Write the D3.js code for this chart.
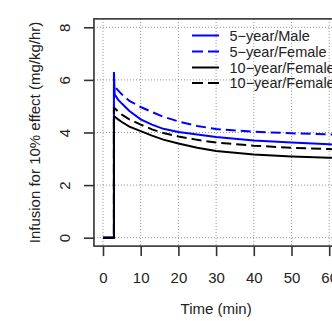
<!DOCTYPE html>
<html><head><meta charset="utf-8">
<script src="https://cdn.jsdelivr.net/npm/d3@7"></script>
<style>body{margin:0;background:#fff}svg{display:block;font-family:"Liberation Sans",Arial,sans-serif}</style>
</head><body><svg id="c" width="332" height="321"></svg>
<script>
// ---- data ----
const time      = [0, 2.9, 2.9, 3.1, 4, 5, 7, 10, 13, 16, 20, 25, 30, 40, 50, 60, 62];
const male5     = [0, 0, 6.3, 5.45, 5.25, 5.1, 4.82, 4.5, 4.3, 4.14, 4.02, 3.92, 3.83, 3.70, 3.62, 3.55, 3.54];
const female5   = [0, 0, 5.75, 5.75, 5.6, 5.45, 5.2, 4.97, 4.78, 4.6, 4.42, 4.25, 4.13, 4.03, 3.97, 3.93, 3.92];
const female10a = [0, 0, 4.6, 4.6, 4.5, 4.4, 4.22, 4.05, 3.88, 3.73, 3.58, 3.42, 3.30, 3.16, 3.09, 3.04, 3.03];
const female10b = [0, 0, 4.92, 4.92, 4.8, 4.68, 4.5, 4.3, 4.12, 3.98, 3.85, 3.72, 3.62, 3.50, 3.42, 3.37, 3.36];
const seriesNames = ["5−year/Male", "5−year/Female", "10−year/Female", "10−year/Female"];
const xTicks = [0, 10, 20, 30, 40, 50, 60];
const yTicks = [0, 2, 4, 6, 8];
const xTitle = "Time (min)";
const yTitle = "Infusion for 10% effect (mg/kg/hr)";

const series = [
  {name: seriesNames[0], values: male5,     color: "#0000ff", dash: null},
  {name: seriesNames[1], values: female5,   color: "#0000ff", dash: "10,5"},
  {name: seriesNames[2], values: female10a, color: "#000000", dash: null},
  {name: seriesNames[3], values: female10b, color: "#000000", dash: "10,5"}
];

const svg = d3.select("#c");
const x = d3.scaleLinear().domain([0, 60]).range([103, 329.2]);
const y = d3.scaleLinear().domain([0, 8]).range([237.7, 27.3]);
const x0 = x(-2.4), x1 = x(62.4), yb = y(-0.32), yt = y(8.32);

// clip
svg.append("clipPath").attr("id","clip").append("rect")
  .attr("x", x0).attr("y", yt).attr("width", x1 - x0).attr("height", yb - yt);

// grid
const grid = svg.append("g").attr("stroke", "#8f8f8f").attr("stroke-width", 1).attr("stroke-dasharray", "1,2");
grid.selectAll(".gx").data(xTicks).join("line")
  .attr("x1", d => x(d)).attr("x2", d => x(d)).attr("y1", yt).attr("y2", yb);
grid.selectAll(".gy").data(yTicks).join("line")
  .attr("y1", d => y(d)).attr("y2", d => y(d)).attr("x1", x0).attr("x2", x1);

// lines (in series order, blacks drawn over blues)
const line = d3.line().x((d, i) => x(time[i])).y(d => y(d));
const lg = svg.append("g").attr("clip-path", "url(#clip)");
series.forEach(s => {
  lg.append("path").attr("d", line(s.values)).attr("fill", "none")
    .attr("stroke", s.color).attr("stroke-width", 2)
    .attr("stroke-dasharray", s.dash);
});

// box
svg.append("rect").attr("x", x0).attr("y", yt).attr("width", x1 - x0).attr("height", yb - yt)
  .attr("fill", "none").attr("stroke", "#333").attr("stroke-width", 1.6);

// axes
const fs = 15;
const xa = svg.append("g").attr("transform", `translate(0,${yb})`)
  .call(d3.axisBottom(x).tickValues(xTicks).tickSize(10).tickPadding(16).tickFormat(d3.format("d")));
xa.select(".domain").remove();
xa.selectAll("line").attr("stroke", "#333").attr("stroke-width", 1.6);
xa.selectAll("text").attr("font-size", fs).attr("fill", "#222").attr("font-family", "Liberation Sans, Arial, sans-serif");

const ya = svg.append("g").attr("transform", `translate(${x0},0)`)
  .call(d3.axisLeft(y).tickValues(yTicks).tickSize(10).tickFormat(d3.format("d")));
ya.select(".domain").remove();
ya.selectAll("line").attr("stroke", "#333").attr("stroke-width", 1.6);
ya.selectAll("text").attr("font-size", fs).attr("fill", "#222").attr("font-family", "Liberation Sans, Arial, sans-serif")
  .attr("x", null).attr("dy", null).attr("text-anchor", "middle")
  .attr("transform", `translate(${69.5 - x0},0) rotate(-90)`);

// titles
svg.append("text").attr("x", (x0 + x1) / 2).attr("y", 314).attr("text-anchor", "middle")
  .attr("font-size", fs).attr("fill", "#222").text(xTitle);
svg.append("text").attr("transform", `translate(40,${(yt + yb) / 2}) rotate(-90)`).attr("text-anchor", "middle")
  .attr("font-size", fs).attr("fill", "#222").text(yTitle);

// legend
const legY = [35.5, 51.5, 67.5, 83];
const leg = svg.append("g");
series.forEach((s, i) => {
  leg.append("line").attr("x1", 192).attr("x2", 219).attr("y1", legY[i]).attr("y2", legY[i])
    .attr("stroke", s.color).attr("stroke-width", 2).attr("stroke-dasharray", s.dash ? "11,5" : null);
  leg.append("text").attr("x", 229.5).attr("y", legY[i] + 5).attr("font-size", 14.5)
    .attr("fill", "#222").text(s.name);
});
</script></body></html>
